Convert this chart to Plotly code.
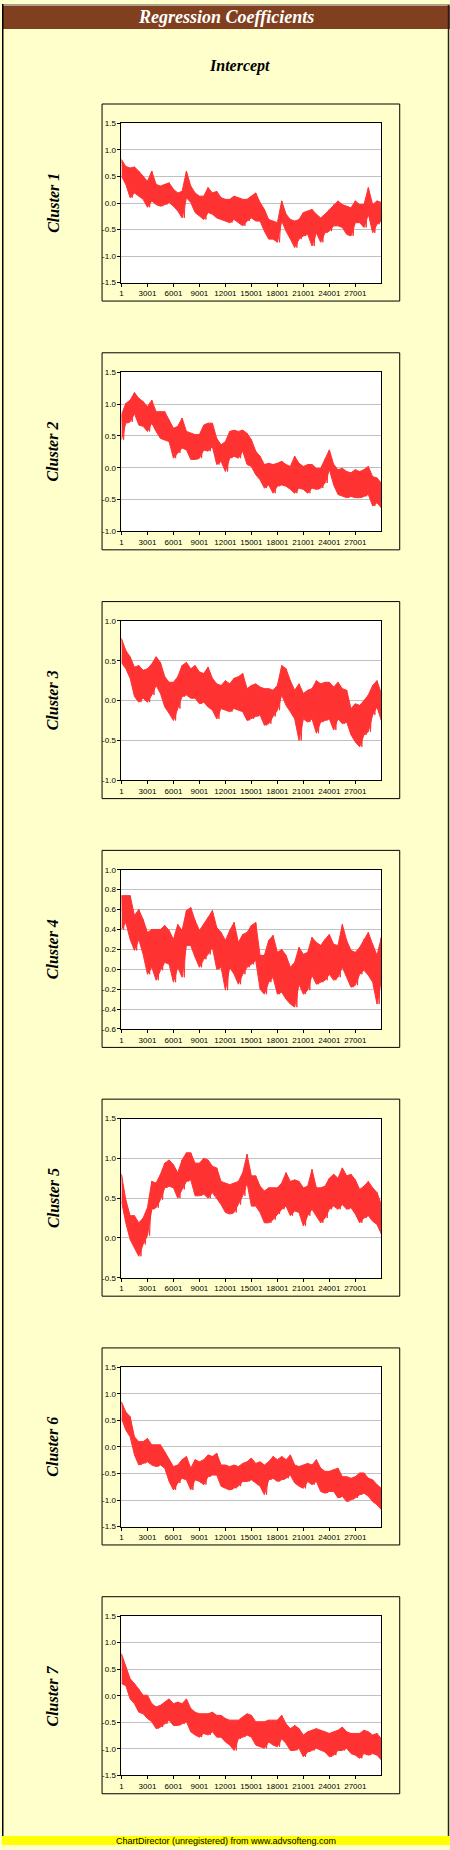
import plotly.graph_objects as go

W, H = 450, 1850

# x axis: sample index, labels every 3000
x_ticks = [1, 3001, 6001, 9001, 12001, 15001, 18001, 21001, 24001, 27001]
x_labels = ['1', '3001', '6001', '9001', '12001', '15001', '18001', '21001', '24001', '27001']
x_max = 30000

# band every 500 samples: upper and lower edge
sample_x = [1 + 500 * p for p in range(61)]

c1_hi = [0.82, 0.69, 0.66, 0.68, 0.60, 0.51, 0.41, 0.60, 0.35, 0.32, 0.35, 0.38, 0.26, 0.19, 0.22, 0.60,
         0.32, 0.19, 0.13, 0.13, 0.29, 0.19, 0.22, 0.10, 0.07, 0.07, 0.13, 0.10, 0.07, 0.07, 0.13, 0.19,
         0.01, -0.12, -0.31, -0.34, -0.37, 0.04, -0.21, -0.31, -0.34, -0.31, -0.18, -0.15, -0.12, -0.21,
         -0.28, -0.21, -0.12, -0.03, 0.04, -0.03, -0.06, -0.09, 0.04, -0.03, -0.03, 0.29, -0.03, 0.04, 0.01]
c1_lo = [0.51, 0.35, 0.10, 0.19, 0.13, 0.07, -0.08, 0.04, -0.03, -0.06, -0.03, 0.01, -0.06, -0.15, -0.28,
         0.10, 0.01, -0.18, -0.24, -0.31, -0.18, -0.21, -0.28, -0.31, -0.34, -0.37, -0.31, -0.37, -0.43,
         -0.34, -0.28, -0.34, -0.34, -0.53, -0.68, -0.68, -0.74, -0.34, -0.53, -0.68, -0.84, -0.68, -0.62,
         -0.59, -0.81, -0.56, -0.74, -0.56, -0.53, -0.43, -0.43, -0.46, -0.59, -0.62, -0.37, -0.37, -0.46,
         -0.21, -0.56, -0.40, -0.34]

c2_hi = [0.83, 1.01, 1.06, 1.18, 1.09, 1.04, 0.96, 1.06, 0.88, 0.88, 0.88, 0.75, 0.62, 0.65, 0.78, 0.57,
         0.54, 0.52, 0.52, 0.67, 0.70, 0.70, 0.46, 0.36, 0.41, 0.57, 0.59, 0.57, 0.59, 0.54, 0.44, 0.26,
         0.18, 0.05, 0.07, 0.05, 0.07, 0.10, 0.05, 0.02, 0.18, 0.07, 0.02, 0.05, 0.05, -0.01, -0.01, 0.13,
         0.28, 0.05, -0.03, -0.01, -0.06, -0.08, -0.03, -0.06, -0.03, 0.02, -0.14, -0.16, -0.24]
c2_lo = [0.44, 0.70, 0.72, 0.85, 0.67, 0.65, 0.57, 0.70, 0.57, 0.46, 0.44, 0.41, 0.15, 0.23, 0.31, 0.28,
         0.13, 0.13, 0.15, 0.28, 0.26, 0.33, 0.05, 0.10, -0.06, 0.15, 0.18, 0.15, 0.26, 0.05, 0.02, -0.11,
         -0.19, -0.32, -0.27, -0.40, -0.29, -0.27, -0.29, -0.34, -0.40, -0.32, -0.34, -0.40, -0.32, -0.34,
         -0.32, -0.24, -0.03, -0.27, -0.42, -0.45, -0.47, -0.45, -0.47, -0.47, -0.45, -0.42, -0.60, -0.55,
         -0.63]

c3_hi = [0.78, 0.63, 0.55, 0.42, 0.44, 0.38, 0.40, 0.46, 0.55, 0.48, 0.30, 0.23, 0.23, 0.30, 0.44, 0.48,
         0.40, 0.44, 0.36, 0.34, 0.42, 0.28, 0.21, 0.19, 0.25, 0.21, 0.28, 0.30, 0.34, 0.15, 0.19, 0.21,
         0.17, 0.15, 0.15, 0.13, 0.19, 0.44, 0.40, 0.25, 0.13, 0.21, 0.09, 0.13, 0.15, 0.25, 0.21, 0.23,
         0.23, 0.17, 0.23, 0.15, 0.13, -0.10, -0.04, -0.06, 0.00, 0.07, 0.19, 0.25, 0.09]
c3_lo = [0.48, 0.40, 0.28, 0.05, -0.02, 0.03, -0.02, 0.07, 0.19, 0.09, -0.08, -0.16, -0.25, -0.10, 0.05,
         0.07, 0.03, 0.03, -0.04, -0.02, -0.08, -0.12, -0.23, -0.10, -0.12, -0.14, -0.10, -0.12, -0.14,
         -0.25, -0.23, -0.20, -0.18, -0.31, -0.29, -0.20, -0.12, 0.07, -0.06, -0.14, -0.23, -0.50, -0.23,
         -0.27, -0.23, -0.41, -0.27, -0.25, -0.23, -0.37, -0.23, -0.29, -0.27, -0.43, -0.52, -0.58, -0.43,
         -0.39, -0.18, -0.08, -0.25]

c4_hi = [0.74, 0.74, 0.74, 0.54, 0.60, 0.50, 0.37, 0.40, 0.40, 0.40, 0.44, 0.39, 0.30, 0.45, 0.39, 0.59,
         0.62, 0.49, 0.39, 0.45, 0.52, 0.59, 0.42, 0.37, 0.29, 0.39, 0.47, 0.27, 0.35, 0.37, 0.44, 0.47,
         0.14, 0.14, 0.29, 0.34, 0.17, 0.20, 0.14, 0.02, 0.07, 0.22, 0.15, 0.17, 0.32, 0.27, 0.24, 0.30,
         0.35, 0.25, 0.24, 0.45, 0.29, 0.19, 0.17, 0.22, 0.30, 0.37, 0.25, 0.14, 0.32]
c4_lo = [0.40, 0.47, 0.30, 0.19, 0.30, 0.15, -0.05, 0.02, -0.11, -0.01, 0.07, 0.05, -0.13, 0.02, -0.08,
         0.24, 0.24, 0.12, 0.02, 0.10, 0.15, 0.22, 0.00, 0.02, -0.21, 0.02, -0.05, -0.15, -0.05, 0.02, 0.05,
         0.09, -0.20, -0.25, -0.13, -0.08, -0.25, -0.23, -0.30, -0.35, -0.38, -0.15, -0.25, -0.21, -0.06,
         -0.15, -0.13, -0.11, -0.05, -0.11, -0.08, 0.02, -0.08, -0.18, -0.16, -0.05, -0.01, -0.06, -0.13,
         -0.35, -0.11]

c5_hi = [0.80, 0.48, 0.28, 0.28, 0.19, 0.25, 0.38, 0.71, 0.69, 0.80, 0.94, 0.98, 0.92, 0.82, 0.98, 1.07,
         1.07, 0.94, 0.94, 1.00, 0.98, 0.90, 0.88, 0.71, 0.69, 0.67, 0.69, 0.71, 0.82, 1.05, 0.78, 0.78,
         0.65, 0.59, 0.63, 0.63, 0.63, 0.69, 0.82, 0.71, 0.73, 0.71, 0.63, 0.65, 0.86, 0.63, 0.63, 0.65,
         0.75, 0.80, 0.75, 0.88, 0.78, 0.80, 0.73, 0.61, 0.65, 0.71, 0.63, 0.57, 0.42]
c5_lo = [0.46, 0.19, -0.02, -0.12, -0.23, -0.08, 0.03, 0.36, 0.38, 0.48, 0.63, 0.65, 0.63, 0.50, 0.61, 0.71,
         0.73, 0.53, 0.53, 0.55, 0.50, 0.57, 0.50, 0.42, 0.32, 0.30, 0.32, 0.42, 0.53, 0.69, 0.40, 0.40,
         0.32, 0.19, 0.19, 0.23, 0.30, 0.36, 0.40, 0.28, 0.34, 0.32, 0.15, 0.28, 0.36, 0.28, 0.19, 0.25,
         0.36, 0.40, 0.36, 0.42, 0.36, 0.38, 0.30, 0.19, 0.25, 0.28, 0.21, 0.17, 0.05]

c6_hi = [0.85, 0.66, 0.57, 0.19, 0.10, 0.10, 0.16, 0.04, 0.04, 0.04, -0.09, -0.24, -0.37, -0.34, -0.24,
         -0.18, -0.40, -0.24, -0.28, -0.24, -0.15, -0.18, -0.12, -0.34, -0.34, -0.37, -0.34, -0.37, -0.31,
         -0.28, -0.21, -0.31, -0.28, -0.34, -0.28, -0.18, -0.24, -0.18, -0.24, -0.15, -0.34, -0.37, -0.34,
         -0.31, -0.34, -0.24, -0.40, -0.46, -0.46, -0.43, -0.40, -0.56, -0.56, -0.59, -0.56, -0.49, -0.49,
         -0.59, -0.62, -0.71, -0.78]
c6_lo = [0.54, 0.32, 0.19, -0.15, -0.34, -0.31, -0.28, -0.34, -0.37, -0.34, -0.40, -0.65, -0.81, -0.68,
         -0.59, -0.62, -0.81, -0.62, -0.65, -0.71, -0.56, -0.53, -0.53, -0.74, -0.78, -0.81, -0.78, -0.74,
         -0.65, -0.65, -0.62, -0.68, -0.74, -0.90, -0.62, -0.59, -0.65, -0.62, -0.59, -0.53, -0.68, -0.74,
         -0.78, -0.65, -0.71, -0.65, -0.84, -0.87, -0.84, -0.84, -0.96, -0.93, -1.03, -0.99, -0.96, -0.90,
         -0.87, -0.93, -1.03, -1.09, -1.18]

c7_hi = [0.79, 0.54, 0.32, 0.23, 0.13, 0.01, 0.01, -0.15, -0.21, -0.18, -0.12, -0.06, -0.15, -0.12, -0.15,
         -0.06, -0.24, -0.31, -0.34, -0.34, -0.34, -0.31, -0.37, -0.37, -0.43, -0.46, -0.46, -0.46, -0.40,
         -0.34, -0.37, -0.49, -0.49, -0.49, -0.46, -0.46, -0.46, -0.37, -0.53, -0.62, -0.56, -0.62, -0.74,
         -0.68, -0.65, -0.62, -0.65, -0.68, -0.71, -0.68, -0.65, -0.59, -0.68, -0.71, -0.71, -0.71, -0.65,
         -0.68, -0.74, -0.71, -0.81]
c7_lo = [0.23, 0.19, -0.06, -0.15, -0.31, -0.34, -0.43, -0.49, -0.62, -0.59, -0.53, -0.46, -0.56, -0.56,
         -0.53, -0.49, -0.68, -0.74, -0.78, -0.71, -0.74, -0.68, -0.78, -0.78, -0.87, -0.93, -1.03, -0.81,
         -0.78, -0.74, -0.78, -0.93, -0.96, -0.99, -0.87, -0.93, -0.96, -0.81, -0.90, -1.03, -1.03, -0.99,
         -1.15, -1.06, -1.03, -0.99, -1.03, -1.06, -1.15, -1.12, -1.03, -1.03, -0.99, -1.09, -1.12, -1.18,
         -1.09, -1.12, -1.09, -1.12, -1.21]

cluster_names = ['Cluster 1', 'Cluster 2', 'Cluster 3', 'Cluster 4', 'Cluster 5', 'Cluster 6', 'Cluster 7']
bands = [(c1_hi, c1_lo), (c2_hi, c2_lo), (c3_hi, c3_lo), (c4_hi, c4_lo),
         (c5_hi, c5_lo), (c6_hi, c6_lo), (c7_hi, c7_lo)]

y_ticks = [
    [-1.5, -1.0, -0.5, 0.0, 0.5, 1.0, 1.5],
    [-1.0, -0.5, 0.0, 0.5, 1.0, 1.5],
    [-1.0, -0.5, 0.0, 0.5, 1.0],
    [-0.6, -0.4, -0.2, 0.0, 0.2, 0.4, 0.6, 0.8, 1.0],
    [-0.5, 0.0, 0.5, 1.0, 1.5],
    [-1.5, -1.0, -0.5, 0.0, 0.5, 1.0, 1.5],
    [-1.5, -1.0, -0.5, 0.0, 0.5, 1.0, 1.5],
]

BG = '#FFFFCC'
RED = '#FF3333'
TICKFONT = dict(family='Liberation Sans, Arial, sans-serif', size=8, color='#000000')
SERIF = 'Liberation Serif, Times New Roman, serif'


def px(x):
    return x / W


def py(y):
    return 1 - y / H


def label(text, x, y, size, color, angle=0, family=SERIF):
    return dict(text=text, x=px(x), y=py(y), xref='paper', yref='paper',
                xanchor='center', yanchor='middle', showarrow=False, textangle=angle,
                font=dict(family=family, size=size, color=color))


fig = go.Figure()
shapes = []
annotations = []

for k, (name, (hi, lo)) in enumerate(zip(cluster_names, bands)):
    off = 250 * k
    n = '' if k == 0 else str(k + 1)

    # solid band between upper and lower edge
    fig.add_trace(go.Scatter(
        x=sample_x + sample_x[::-1], y=hi + lo[::-1],
        mode='lines', fill='toself', fillcolor=RED,
        line=dict(color=RED, width=1),
        xaxis='x' + n, yaxis='y' + n,
        showlegend=False, hoverinfo='skip',
    ))
    # jagged noise on top, from the same readings
    xs, ys = [], []
    for sx, h, l in zip(sample_x, hi, lo):
        xs += [sx, sx + 250]
        ys += [h, l]
    fig.add_trace(go.Scatter(
        x=xs, y=ys, mode='lines',
        line=dict(color=RED, width=1),
        xaxis='x' + n, yaxis='y' + n,
        showlegend=False, hoverinfo='skip',
    ))

    yt = y_ticks[k]
    fig.layout['xaxis' + n] = dict(
        domain=[px(120), px(381)], anchor='y' + n,
        range=[1, x_max], tickvals=x_ticks, ticktext=x_labels,
        ticks='outside', ticklen=3, tickwidth=1, tickcolor='#000000',
        showline=True, mirror=True, linecolor='#000000', linewidth=1,
        showgrid=False, zeroline=False, tickfont=TICKFONT, fixedrange=True,
    )
    fig.layout['yaxis' + n] = dict(
        domain=[py(280 + off), py(120 + off)], anchor='x' + n,
        range=[yt[0], yt[-1]], tickvals=yt, ticktext=['%.1f' % v for v in yt],
        ticks='outside', ticklen=3, tickwidth=1, tickcolor='#000000',
        showline=True, mirror=True, linecolor='#000000', linewidth=1,
        showgrid=True, gridcolor='#C0C0C0', gridwidth=1,
        zeroline=False, tickfont=TICKFONT, fixedrange=True,
    )

    # panel frame around each chart
    shapes.append(dict(type='rect', xref='paper', yref='paper',
                       x0=px(100.5), x1=px(399.5), y0=py(298.5 + off), y1=py(100.5 + off),
                       line=dict(color='#000000', width=1), layer='below'))

    annotations.append(label('<b><i>%s</i></b>' % name, 51, 200 + off, 16, '#000000', angle=-90))

# title bar, page border and footer
shapes += [
    dict(type='rect', xref='paper', yref='paper', x0=0, x1=1, y0=py(25), y1=py(1.5),
         fillcolor='#804020', line=dict(width=0), layer='below'),
    dict(type='line', xref='paper', yref='paper', x0=0, x1=1, y0=py(0.5), y1=py(0.5),
         line=dict(color='#A0A0A0', width=1)),
    dict(type='line', xref='paper', yref='paper', x0=px(0.75), x1=px(0.75), y0=py(1841), y1=1,
         line=dict(color='#000000', width=1.5)),
    dict(type='line', xref='paper', yref='paper', x0=px(448.5), x1=px(448.5), y0=py(1841), y1=py(1),
         line=dict(color='#202020', width=1.5)),
    dict(type='rect', xref='paper', yref='paper', x0=0, x1=1, y0=0, y1=py(1841),
         fillcolor='#FFFF00', line=dict(width=0), layer='below'),
]

annotations += [
    label('<b><i>Regression Coefficients</i></b>', 225, 13.5, 18, '#FFFFFF'),
    label('<b><i>Intercept</i></b>', 239, 62, 16, '#000000'),
    label('ChartDirector (unregistered) from www.advsofteng.com', 225, 1845.5, 9, '#000000',
          family='Liberation Sans, Arial, sans-serif'),
]

fig.update_layout(
    width=W, height=H,
    margin=dict(l=0, r=0, t=0, b=0),
    paper_bgcolor=BG, plot_bgcolor='#FFFFFF',
    shapes=shapes, annotations=annotations,
    showlegend=False,
)

fig.write_html('out.html', config=dict(displayModeBar=False),
               post_script="document.body.style.margin='0';")
